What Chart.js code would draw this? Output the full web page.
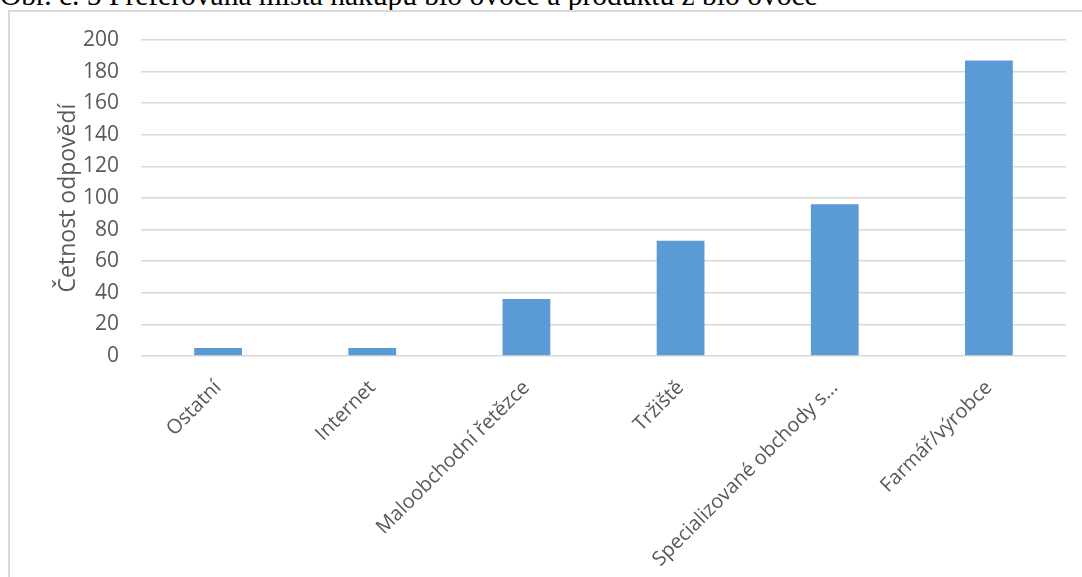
<!DOCTYPE html>
<html lang="cs">
<head>
<meta charset="utf-8">
<title>Preferovaná místa nákupu bio ovoce</title>
<script src="https://cdn.jsdelivr.net/npm/chart.js@4/dist/chart.umd.min.js"></script>
<style>
  html, body { margin: 0; padding: 0; background: #fff; overflow: hidden; }
  #page { position: relative; width: 1082px; height: 577px; overflow: hidden; }
  #caption {
    position: absolute; left: 0; top: -19px;
    font: 29.5px "Liberation Serif", "Times New Roman", serif;
    color: #000; white-space: nowrap; line-height: 29px;
  }
  #frame {
    position: absolute; left: 8px; top: 10px; width: 1100px; height: 600px;
    border: 2px solid #d9d9d9;
  }
  #chart { position: absolute; left: 0; top: 0; }
</style>
</head>
<body>
<div id="page">
  <div id="caption">Obr. č. 5 Preferovaná místa nákupu bio ovoce a produktů z bio ovoce</div>
  <div id="frame"></div>
  <canvas id="chart" width="1082" height="577"></canvas>
</div>
<script>
const categories = [
  'Ostatní', 'Internet', 'Maloobchodní řetězce', 'Tržiště',
  'Specializované obchody s...', 'Farmář/výrobce'
];
const counts = [5, 5, 36, 73, 96, 187];
const axisTitle = 'Četnost odpovědí';

const grey = '#595959';
const gridGrey = '#d9d9d9';
const fontFamily = '"Open Sans", "DejaVu Sans", sans-serif';

const ctx = document.getElementById('chart').getContext('2d');

const config = {
  type: 'bar',
  data: {
    labels: categories,
    datasets: [{
      label: axisTitle,
      data: counts,
      backgroundColor: '#5b9bd5',
      borderWidth: 0,
      categoryPercentage: 1,
      barPercentage: 0.31
    }]
  },
  options: {
    responsive: false,
    animation: false,
    layout: { padding: { left: 0, top: 40, right: 16, bottom: 0 } },
    plugins: {
      legend: { display: false },
      tooltip: { enabled: false }
    },
    scales: {
      x: {
        grid: { display: false, drawTicks: false },
        border: { display: false },
        ticks: {
          color: grey,
          font: { family: fontFamily, size: 20 },
          autoSkip: false,
          minRotation: 45,
          maxRotation: 45,
          padding: 20
        },
        afterFit: function (scale) { scale.height = 221; }
      },
      y: {
        min: 0,
        max: 200,
        grid: { color: gridGrey, lineWidth: 1.5, drawTicks: false },
        border: { display: false },
        ticks: {
          stepSize: 20,
          color: grey,
          font: { family: fontFamily, size: 21 },
          padding: 22
        },
        title: {
          display: true,
          text: axisTitle,
          color: grey,
          font: { family: fontFamily, size: 23 },
          padding: { top: 55, bottom: 0 }
        },
        afterFit: function (scale) { scale.width = 141; }
      }
    }
  }
};

const chart = new Chart(ctx, config);
</script>
</body>
</html>
